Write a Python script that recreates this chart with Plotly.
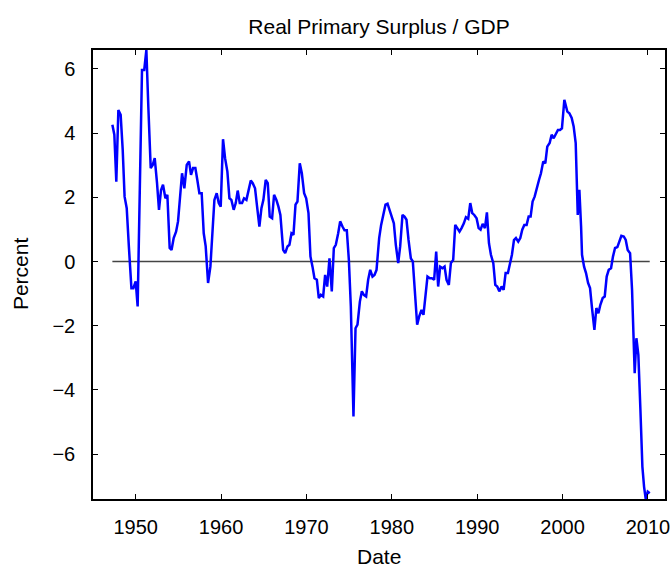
import plotly.graph_objects as go

# quarterly readings (decimal year, percent of GDP)
years = [
    1947.27, 1947.5, 1947.73, 1947.97, 1948.24, 1948.48, 1948.7, 1948.95,
    1949.2, 1949.5, 1949.73, 1950.0, 1950.23, 1950.5, 1950.74, 1951.0,
    1951.25, 1951.48, 1951.76, 1952.0, 1952.23, 1952.5, 1952.73, 1952.97,
    1953.2, 1953.48, 1953.71, 1953.98, 1954.2, 1954.45, 1954.73, 1954.96,
    1955.2, 1955.43, 1955.7, 1955.98, 1956.25, 1956.48, 1956.72, 1956.99,
    1957.22, 1957.46, 1957.73, 1957.97, 1958.2, 1958.48, 1958.75, 1958.98,
    1959.22, 1959.49, 1959.73, 1959.96, 1960.23, 1960.47, 1960.74, 1960.98,
    1961.21, 1961.48, 1961.72, 1961.95, 1962.19, 1962.46, 1962.69, 1962.97,
    1963.2, 1963.48, 1963.71, 1963.98, 1964.22, 1964.49, 1964.73, 1964.96,
    1965.23, 1965.47, 1965.7, 1965.98, 1966.21, 1966.48, 1966.72, 1966.95,
    1967.27, 1967.51, 1967.78, 1968.01, 1968.25, 1968.48, 1968.72, 1968.95,
    1969.22, 1969.46, 1969.73, 1969.97, 1970.24, 1970.47, 1970.71, 1970.94,
    1971.22, 1971.45, 1971.69, 1971.96, 1972.19, 1972.43, 1972.7, 1972.97,
    1973.21, 1973.44, 1973.72, 1973.95, 1974.22, 1974.46, 1974.73, 1974.97,
    1975.2, 1975.51, 1975.75, 1975.98, 1976.26, 1976.49, 1976.72, 1976.99,
    1977.23, 1977.47, 1977.74, 1977.97, 1978.21, 1978.52, 1978.75, 1979.03,
    1979.26, 1979.5, 1979.73, 1980.0, 1980.24, 1980.47, 1980.75, 1980.98,
    1981.25, 1981.49, 1981.72, 1981.96, 1982.23, 1982.46, 1982.7, 1982.97,
    1983.21, 1983.48, 1983.71, 1983.95, 1984.18, 1984.45, 1984.69, 1984.96,
    1985.2, 1985.43, 1985.67, 1985.94, 1986.18, 1986.41, 1986.68, 1986.92,
    1987.19, 1987.43, 1987.66, 1987.93, 1988.17, 1988.44, 1988.68, 1988.95,
    1989.19, 1989.42, 1989.66, 1989.93, 1990.17, 1990.4, 1990.64, 1990.91,
    1991.14, 1991.38, 1991.61, 1991.89, 1992.12, 1992.35, 1992.59, 1992.86,
    1993.1, 1993.33, 1993.6, 1993.84, 1994.07, 1994.31, 1994.54, 1994.81,
    1995.05, 1995.28, 1995.52, 1995.79, 1996.03, 1996.26, 1996.49, 1996.73,
    1997.0, 1997.24, 1997.47, 1997.74, 1997.98, 1998.21, 1998.49, 1998.72,
    1998.96, 1999.19, 1999.46, 1999.7, 1999.93, 2000.21, 2000.56, 2000.8,
    2001.07, 2001.3, 2001.54, 2001.78, 2001.97, 2002.17, 2002.28, 2002.52,
    2002.75, 2002.99, 2003.22, 2003.45, 2003.73, 2003.96, 2004.2, 2004.43,
    2004.7, 2004.94, 2005.17, 2005.41, 2005.68, 2005.91, 2006.15, 2006.42,
    2006.66, 2006.89, 2007.17, 2007.4, 2007.63, 2007.91, 2008.14, 2008.3,
    2008.45, 2008.65, 2008.88, 2009.12, 2009.35, 2009.55, 2009.74, 2009.98,
    2010.21,
]

surplus = [
    4.26, 3.95, 2.49, 4.72, 4.57, 3.48, 2.02, 1.66,
    0.47, -0.83, -0.83, -0.62, -1.40, 2.75, 5.97, 5.97,
    6.59, 4.83, 2.91, 3.01, 3.22, 2.44, 1.61, 2.23,
    2.39, 1.97, 2.08, 0.42, 0.36, 0.73, 0.93, 1.25,
    1.92, 2.75, 2.28, 3.01, 3.12, 2.70, 2.91, 2.91,
    2.54, 2.13, 2.13, 0.88, 0.47, -0.67, -0.16, 0.78,
    1.92, 2.13, 1.82, 1.71, 3.81, 3.22, 2.80, 1.97,
    1.92, 1.61, 1.82, 2.21, 1.82, 1.82, 1.97, 1.92,
    2.18, 2.52, 2.44, 2.28, 1.71, 1.09, 1.66, 1.92,
    2.54, 2.44, 1.40, 1.35, 2.08, 1.92, 1.71, 1.45,
    0.36, 0.26, 0.47, 0.52, 0.88, 0.83, 1.77, 1.87,
    3.06, 2.75, 2.13, 1.97, 1.51, 0.16, -0.16, -0.52,
    -0.57, -1.14, -1.04, -1.09, -0.42, -0.78, 0.10, -0.93,
    0.42, 0.52, 0.88, 1.25, 1.09, 0.97, 0.97, 0.05,
    -1.40, -4.83, -2.08, -1.97, -1.25, -0.93, -1.04, -1.09,
    -0.57, -0.26, -0.47, -0.42, -0.26, 0.73, 1.14, 1.51,
    1.77, 1.80, 1.61, 1.40, 1.19, 0.52, -0.05, 0.47,
    1.45, 1.40, 1.30, 0.67, 0.10, 0.00, -0.99, -1.97,
    -1.71, -1.51, -1.66, -0.99, -0.47, -0.52, -0.52, -0.57,
    0.31, -0.78, -0.16, -0.21, -0.16, -0.57, -0.73, -0.05,
    0.05, 1.14, 1.04, 0.93, 1.04, 1.19, 1.38, 1.33,
    1.82, 1.51, 1.45, 1.35, 1.04, 0.99, 1.17, 1.04,
    1.53, 0.57, 0.21, -0.05, -0.73, -0.78, -0.93, -0.78,
    -0.88, -0.36, -0.36, -0.05, 0.21, 0.67, 0.73, 0.62,
    0.73, 0.99, 1.14, 1.14, 1.40, 1.40, 1.87, 2.02,
    2.34, 2.54, 2.75, 3.12, 3.06, 3.58, 3.69, 3.95,
    3.84, 3.98, 4.10, 4.10, 4.15, 5.04, 4.67, 4.62,
    4.47, 4.21, 3.69, 1.45, 2.23, 1.09, 0.21, -0.16,
    -0.36, -0.67, -0.83, -1.45, -2.13, -1.45, -1.61, -1.35,
    -1.14, -1.09, -0.47, -0.26, -0.21, 0.16, 0.42, 0.45,
    0.62, 0.80, 0.78, 0.67, 0.36, 0.26, -0.88, -2.23,
    -3.48, -2.39, -2.91, -4.62, -6.39, -7.02, -7.40, -7.17,
    -7.22,
]

x_ticks = [1950, 1960, 1970, 1980, 1990, 2000, 2010]
y_ticks = [-6, -4, -2, 0, 2, 4, 6]

font = "Liberation Sans, Arial, sans-serif"

fig = go.Figure()

# zero reference line across the data span
fig.add_trace(
    go.Scatter(
        x=[years[0], years[-1]],
        y=[0, 0],
        mode="lines",
        line=dict(color="#444444", width=1.5),
        hoverinfo="skip",
    )
)

fig.add_trace(
    go.Scatter(
        x=years,
        y=surplus,
        mode="lines",
        line=dict(color="#0000ff", width=2.5),
        name="Real Primary Surplus / GDP",
    )
)

axis_style = dict(
    showline=True,
    linecolor="black",
    linewidth=1.5,
    mirror="ticks",
    ticks="inside",
    ticklen=5,
    tickwidth=1,
    tickcolor="black",
    showgrid=False,
    zeroline=False,
    automargin=False,
    tickfont=dict(size=20, color="black", family=font),
)

fig.update_layout(
    width=671,
    height=570,
    template="plotly_white",
    showlegend=False,
    title=dict(
        text="Real Primary Surplus / GDP",
        x=0.5,
        xref="paper",
        xanchor="center",
        y=0.954,
        yref="container",
        yanchor="middle",
        font=dict(size=21, color="black", family=font),
    ),
    margin=dict(t=50, r=6, b=71, l=93),
    plot_bgcolor="white",
    paper_bgcolor="white",
    annotations=[
        dict(
            text="Percent",
            xref="paper",
            yref="paper",
            x=-0.1276,
            y=0.501,
            xanchor="center",
            yanchor="middle",
            textangle=-90,
            showarrow=False,
            font=dict(size=21, color="black", family=font),
        ),
        dict(
            text="Date",
            xref="paper",
            yref="paper",
            x=0.5,
            y=-0.129,
            xanchor="center",
            yanchor="middle",
            showarrow=False,
            font=dict(size=21, color="black", family=font),
        ),
    ],
)

fig.update_xaxes(axis_style, range=[1945, 2012], tickvals=x_ticks, ticklabelstandoff=9)
fig.update_yaxes(
    axis_style,
    range=[min(surplus), max(surplus)],
    tickvals=y_ticks,
    ticklabelstandoff=12,
)

# drop the default page margin so the figure sits at the window's corner
fig.write_html(
    "out.html",
    config={"displayModeBar": False},
    post_script="document.body.style.margin = '0';",
)
